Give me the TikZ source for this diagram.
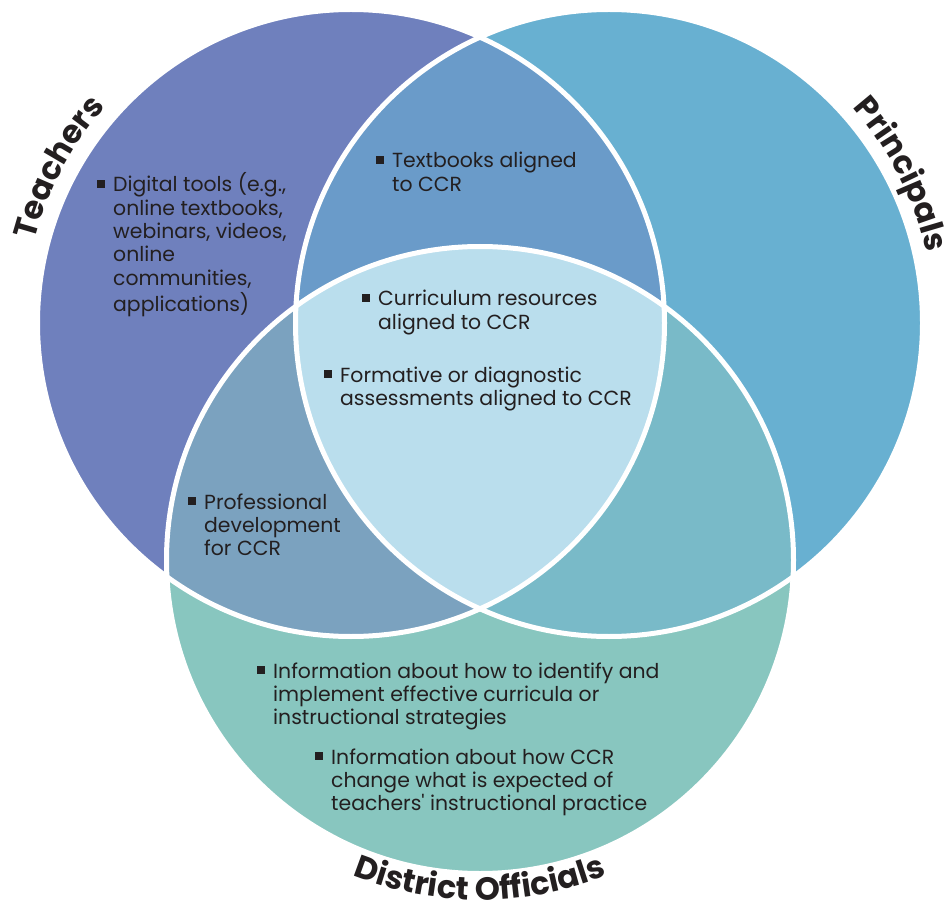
\documentclass[tikz,border=0pt]{standalone}
\usepackage{fontspec}
\setmainfont{Poppins}
\usetikzlibrary{decorations.text}
\definecolor{cT}{HTML}{6F80BD}
\definecolor{cP}{HTML}{68B0D1}
\definecolor{cD}{HTML}{88C6BF}
\definecolor{cTP}{HTML}{6A9BC9}
\definecolor{cTD}{HTML}{7BA2BF}
\definecolor{cPD}{HTML}{79BAC8}
\definecolor{cTPD}{HTML}{BADEED}
\definecolor{ink}{HTML}{231F20}
\newcommand\bulsq{\rule[4pt]{8pt}{8pt}\hspace{8pt}}
\newcommand\txtlines[1]{\begin{tabular}[t]{@{}l@{}}#1\end{tabular}}
\begin{document}
\begin{tikzpicture}[x=1pt,y=-1pt,
  item/.style={anchor=base west, inner sep=0pt, text=ink, font=\fontsize{20.4}{23.3}\selectfont},
  sepline/.style={draw=white, line width=5pt},
  arctitle/.style={decorate, decoration={text along path, text align=center, text color=ink,
      text={|\fontsize{32}{38}\selectfont\bfseries|#1}}}
]
\useasboundingbox (0,0) rectangle (948,909);
\def\crad{313.5}
\coordinate (cl) at (351,323);
\coordinate (cr) at (609,323);
\coordinate (cb) at (480,560);
% base fills
\fill[cT] (cl) circle[radius=\crad];
\fill[cP] (cr) circle[radius=\crad];
\fill[cD] (cb) circle[radius=\crad];
\begin{scope}
  \clip (cl) circle[radius=\crad];
  \fill[cTP] (cr) circle[radius=\crad];
  \fill[cTD] (cb) circle[radius=\crad];
\end{scope}
\begin{scope}
  \clip (cr) circle[radius=\crad];
  \fill[cPD] (cb) circle[radius=\crad];
\end{scope}
\begin{scope}
  \clip (cl) circle[radius=\crad];
  \clip (cr) circle[radius=\crad];
  \fill[cTPD] (cb) circle[radius=\crad];
\end{scope}
% white separators
\draw[sepline] (cl) circle[radius=\crad];
\draw[sepline] (cr) circle[radius=\crad];
\draw[sepline] (cb) circle[radius=\crad];
% curved titles
\path[arctitle=Teachers] ([shift={(351,323)}]-182:327) arc[start angle=-182, end angle=-122, radius=327];
\path[arctitle=Principals] ([shift={(609,323)}]-57:325) arc[start angle=-57, end angle=3, radius=325];
\path[arctitle={District Officials}] ([shift={(480,560)}]125:340) arc[start angle=125, end angle=55, radius=340];
% items
\node[item] (t1) at (97,192) {\bulsq\txtlines{Digital tools (e.g.,\\online textbooks,\\webinars, videos,\\online\\communities,\\applications)}};
\node[item] (t2) at (376,168) {\bulsq\txtlines{Textbooks aligned\\to CCR}};
\node[item] (t3) at (362,306) {\bulsq\txtlines{Curriculum resources\\aligned to CCR}};
\node[item] (t4) at (324,382) {\bulsq\txtlines{Formative or diagnostic\\assessments aligned to CCR}};
\node[item] (t5) at (188,509) {\bulsq\txtlines{Professional\\development\\for CCR}};
\node[item] (t6) at (257,678) {\bulsq\txtlines{Information about how to identify and\\implement effective curricula or\\instructional strategies}};
\node[item] (t7) at (315,764) {\bulsq\txtlines{Information about how CCR\\change what is expected of\\teachers\textquotesingle{} instructional practice}};
\end{tikzpicture}
\end{document}
